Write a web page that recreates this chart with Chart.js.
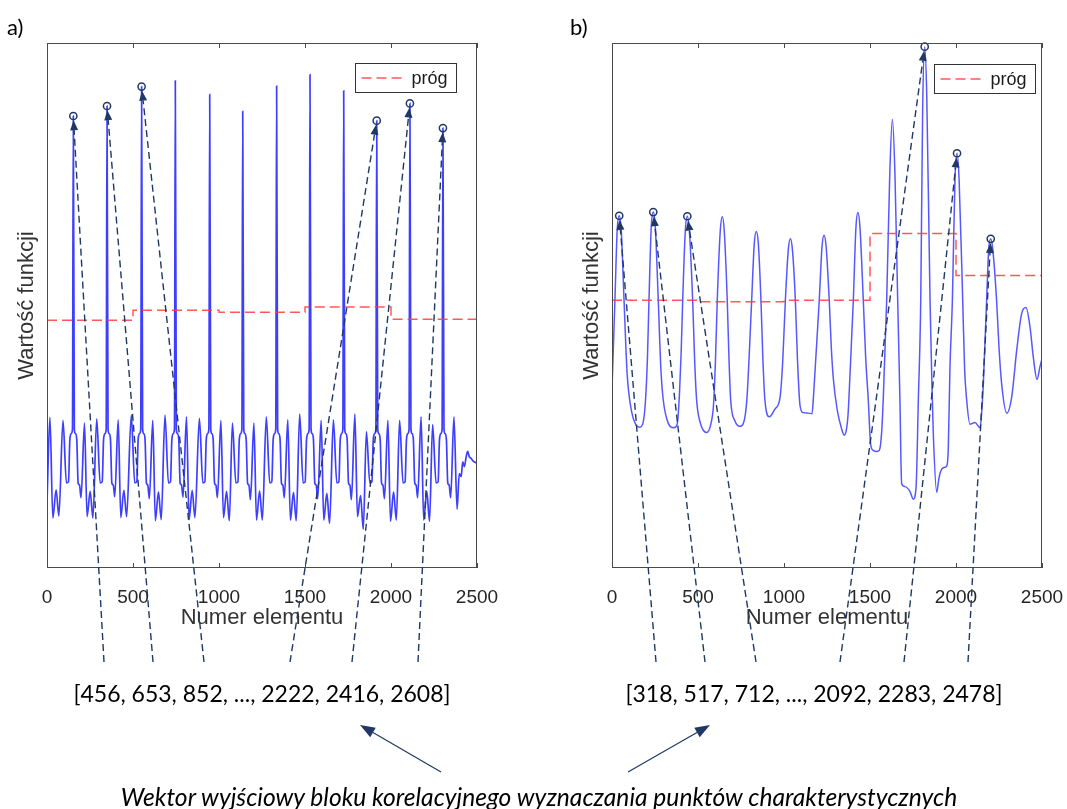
<!DOCTYPE html>
<html>
<head>
<meta charset="utf-8">
<script src="https://cdn.jsdelivr.net/npm/chart.js@4.4.1/dist/chart.umd.min.js"></script>
<style>
  html, body { margin: 0; padding: 0; background: #fff; }
  #wrap { position: relative; width: 1067px; height: 809px; overflow: hidden; background: #fff; }
  #wrap canvas { position: absolute; top: 0; }
  #ca { left: 0; }
  #cb { left: 565px; }
  #ov { left: 0; pointer-events: none; }
  .txt { position: absolute; white-space: nowrap; color: #000; font-family: Lato, "Open Sans", sans-serif; transform: translate(-50%, -50%); line-height: 1; }
  .tag { position: absolute; font-family: Lato, "Open Sans", sans-serif; font-size: 22px; line-height: 1; color: #000; }
</style>
</head>
<body>
<div id="wrap">
  <canvas id="ca" width="500" height="640"></canvas>
  <canvas id="cb" width="500" height="640"></canvas>
  <canvas id="ov" width="1067" height="809"></canvas>
  <div class="tag" style="left:7px; top:16px;">a)</div>
  <div class="tag" style="left:570px; top:16px;">b)</div>
  <div class="txt" id="vecA" style="left:262px; top:693px; font-size:23px;"></div>
  <div class="txt" id="vecB" style="left:814px; top:693px; font-size:23px;"></div>
  <div class="txt" id="caption" style="left:539px; top:797px; font-size:24.6px; font-style:italic;"></div>
</div>
<script>
// ---- data: panel a (element number, function value) ----
const signalA = [
  [0,12.6],[17,28.7],[34,9.5],[53,14.9],[69,9.9],[93,28.1],[113,16.2],[125,16.4],[133,24.5],[141,25.6],[148,26.4],
  [153,86.1],
  [159,26.4],[165,25.6],[173,24.5],[181,16.2],[189,15.8],[198,13.4],[218,27.6],[233,9.8],[251,14.6],[267,9.5],[289,28.4],[309,16.2],[321,16.4],[329,24.5],[337,25.6],[344,26.4],
  [349,88.0],
  [355,26.4],[361,25.6],[369,24.5],[377,16.2],[385,15.8],[394,13.6],[414,28.2],[429,9.6],[447,14.8],[463,9.8],[490,29.1],[510,16.2],[522,16.4],[530,24.5],[538,25.6],[545,26.4],
  [550,91.7],
  [556,26.4],[562,25.6],[570,24.5],[578,16.2],[586,15.8],[595,13.2],[615,28.1],[630,9.0],[648,14.5],[664,9.2],[686,29.1],[706,16.2],[718,16.4],[726,24.5],[734,25.6],[741,26.4],
  [746,92.8],
  [752,26.4],[758,25.6],[766,24.5],[774,16.2],[782,15.8],[791,13.5],[811,28.8],[826,9.2],[844,14.8],[860,9.6],[886,28.5],[906,16.2],[918,16.4],[926,24.5],[934,25.6],[941,26.4],
  [946,90.2],
  [952,26.4],[958,25.6],[966,24.5],[974,16.2],[982,15.8],[991,13.4],[1011,28.1],[1026,9.6],[1044,14.6],[1060,9.0],[1078,27.6],[1098,16.2],[1110,16.4],[1118,24.5],[1126,25.6],[1133,26.4],
  [1138,87.0],
  [1144,26.4],[1150,25.6],[1158,24.5],[1166,16.2],[1174,15.8],[1183,13.0],[1203,27.6],[1218,9.1],[1236,14.7],[1252,9.1],[1275,28.8],[1295,16.2],[1307,16.4],[1315,24.5],[1323,25.6],[1330,26.4],
  [1335,91.8],
  [1341,26.4],[1347,25.6],[1355,24.5],[1363,16.2],[1371,15.8],[1380,13.4],[1400,28.2],[1415,9.1],[1433,14.4],[1449,9.0],[1469,29.3],[1489,16.2],[1501,16.4],[1509,24.5],[1517,25.6],[1524,26.4],
  [1529,94.0],
  [1535,26.4],[1541,25.6],[1549,24.5],[1557,16.2],[1565,15.8],[1574,13.2],[1594,28.1],[1609,9.1],[1627,14.2],[1643,8.5],[1665,28.2],[1685,16.2],[1697,16.4],[1705,24.5],[1713,25.6],[1720,26.4],
  [1725,90.9],
  [1731,26.4],[1737,25.6],[1745,24.5],[1753,16.2],[1761,15.8],[1770,13.0],[1790,29.3],[1805,9.8],[1823,13.8],[1839,7.4],[1857,26.0],[1877,16.2],[1889,16.4],[1897,24.5],[1905,25.6],[1912,26.4],
  [1917,85.2],
  [1923,26.4],[1929,25.6],[1937,24.5],[1945,16.2],[1953,15.8],[1962,13.2],[1982,28.1],[1997,8.9],[2015,14.5],[2031,9.1],[2050,28.1],[2070,16.2],[2082,16.4],[2090,24.5],[2098,25.6],[2105,26.4],
  [2110,88.5],
  [2116,26.4],[2122,25.6],[2130,24.5],[2138,16.2],[2146,15.8],[2155,13.4],[2175,28.8],[2190,9.1],[2208,14.6],[2224,8.9],[2242,27.3],[2262,16.2],[2274,16.4],[2282,24.5],[2290,25.6],[2297,26.4],
  [2302,83.8],
  [2308,26.4],[2314,25.6],[2322,24.5],[2330,16.2],[2338,15.8],[2347,13.4],[2366,28.8],[2384,11.2],[2397,18.0],[2408,17.4],[2417,20.2],[2427,19.3],[2436,21.0],[2446,22.2],[2455,21.2],[2465,20.9],[2480,20.3],[2500,20.0]
];
const thresholdA = [[0,47.2],[500,47.2],[500,49.1],[1000,49.1],[1000,48.7],[1500,48.7],[1500,49.7],[2000,49.7],[2000,47.4],[2500,47.4]];
const peaksA = [153, 349, 550, 1917, 2110, 2302];
const vectorA = [456, 653, 852, 2222, 2416, 2608];

// ---- data: panel b ----
const signalB = [
  [0,34.2],[17,51],[30,64.2],[42,67.1],[54,64.2],[70,51],[88,37],[114,29.8],[140,27.2],[160,26.8],[180,27.6],[195,32],[206,40],
  [215,51],[228,64.8],[240,67.8],[252,64.8],[269,51],[284,38],[298,32],[327,27.6],[360,26.7],[379,27.4],[392,33],[402,41],
  [411,51],[426,64.1],[438,67.0],[450,64.1],[469,51],[480,40],[492,32],[512,27.8],[550,25.8],[576,27.6],[590,31],[601,39],
  [612,51],[629,64.0],[641,66.9],[653,64.0],[670,51],[680,40],[690,32],[715,28.0],[744,27.0],[773,28.8],[785,32.5],[797,40],
  [812,51],[827,61.7],[839,64.1],[851,61.7],[866,51],[877,40],[889,32],[915,28.8],[948,30.3],[977,32.5],[992,39],
  [1008,51],[1025,60.6],[1037,62.7],[1049,60.6],[1066,51],[1078,40],[1093,31],[1110,29.6],[1140,29.5],[1163,29.4],[1172,33],[1185,40],
  [1205,51],[1221,61.2],[1233,63.4],[1245,61.2],[1263,51],[1275,42],[1287,36],[1310,30],[1335,26.5],[1350,25.3],[1362,26.2],[1372,29],[1384,37],
  [1403,51],[1418,64.7],[1430,67.7],[1442,64.7],[1461,51],[1475,40],[1490,32],[1504,23.5],[1519,22.4],[1540,22.2],[1554,22.4],[1568,26],[1578,33],
  [1597,51],[1615,75.1],[1630,85.5],[1645,75.1],[1661,51],[1674,32],[1684,16.1],[1703,15.5],[1732,14.6],[1752,13.1],[1768,15.5],[1781,32],
  [1795,51],[1806,87],[1818,99.3],[1830,90],[1849,51],[1860,35],[1868,25.6],[1888,14.4],[1898,16.5],[1907,18.0],[1926,19.1],[1946,19.4],[1955,22.6],[1965,38.3],
  [1979,51],[1994,74],[2006,79.0],[2018,74],[2039,51],[2050,38],[2062,32],[2081,27.4],[2110,27.7],[2140,26.7],[2150,30],[2159,35.2],
  [2178,51],[2190,60.6],[2202,62.7],[2214,60.6],[2236,51],[2250,42],[2265,35.2],[2295,29.5],[2324,32.6],[2353,41.5],[2382,48.5],
  [2407,49.6],[2430,46],[2450,40],[2471,35.9],[2488,38.3],[2500,39.9]
];
const thresholdB = [[0,51.0],[500,51.0],[500,50.7],[1000,50.7],[1000,51.0],[1500,51.0],[1500,63.7],[2000,63.7],[2000,55.7],[2500,55.7]];
const peaksB = [42, 240, 438, 1818, 2006, 2202];
const vectorB = [318, 517, 712, 2092, 2283, 2478];

// ---- shared text ----
const xTitle = 'Numer elementu';
const yTitle = 'Wartość funkcji';
const legendText = 'próg';
const captionText = 'Wektor wyjściowy bloku korelacyjnego wyznaczania punktów charakterystycznych';

const NAVY = '#1f3864';
const AXIS = '#4a4a4a';
const toXY = arr => arr.map(([x, y]) => ({ x, y }));
const lookup = (sig, x) => sig.find(p => p[0] === x)[1];

// frame, inside ticks and the legend box drawn on top of the plot
function framePlugin(legendDx, legendTop) {
  return {
    id: 'frame',
    afterDatasetsDraw(chart) {
      const { ctx, chartArea: a, scales } = chart;
      ctx.save();
      ctx.strokeStyle = AXIS;
      ctx.lineWidth = 1;
      ctx.strokeRect(Math.round(a.left) + 0.5, Math.round(a.top) + 0.5, Math.round(a.right - a.left) - 1, Math.round(a.bottom - a.top) - 1);
      ctx.beginPath();
      scales.x.ticks.forEach(t => {
        const px = Math.round(scales.x.getPixelForValue(t.value)) + 0.5;
        ctx.moveTo(px, a.bottom); ctx.lineTo(px, a.bottom - 5);
        ctx.moveTo(px, a.top); ctx.lineTo(px, a.top + 5);
      });
      ctx.stroke();
      // legend
      const bx = Math.round(a.right + legendDx) + 0.5, by = Math.round(legendTop) + 0.5, bw = 101, bh = 29;
      ctx.fillStyle = '#fff';
      ctx.fillRect(bx, by, bw, bh);
      ctx.strokeStyle = '#333';
      ctx.strokeRect(bx, by, bw, bh);
      ctx.strokeStyle = 'rgba(255,60,60,0.85)';
      ctx.lineWidth = 1.5;
      ctx.setLineDash([10, 5]);
      ctx.beginPath();
      ctx.moveTo(bx + 6, by + bh / 2); ctx.lineTo(bx + 48, by + bh / 2);
      ctx.stroke();
      ctx.setLineDash([]);
      ctx.fillStyle = '#1a1a1a';
      ctx.font = '18px "Liberation Sans", Arial, sans-serif';
      ctx.textBaseline = 'middle';
      ctx.textAlign = 'left';
      ctx.fillText(legendText, bx + 56, by + bh / 2 + 1);
      ctx.restore();
    }
  };
}

function makeChart(id, signal, threshold, peaks, lineColor, lineWidth, legendDx, legendTop) {
  return new Chart(document.getElementById(id), {
    type: 'scatter',
    data: {
      datasets: [
        {
          label: 'maksima',
          data: toXY(peaks.map(x => [x, lookup(signal, x)])),
          showLine: false,
          pointRadius: 3.6,
          pointStyle: 'circle',
          pointBorderColor: NAVY,
          pointBackgroundColor: 'rgba(0,0,0,0)',
          pointBorderWidth: 1.5,
          clip: false,
          order: 0
        },
        {
          label: legendText,
          data: toXY(threshold),
          showLine: true,
          pointRadius: 0,
          borderColor: 'rgba(255,60,60,0.85)',
          borderWidth: 1.5,
          borderDash: [10, 5],
          order: 1
        },
        {
          label: 'funkcja',
          data: toXY(signal),
          showLine: true,
          pointRadius: 0,
          borderColor: lineColor,
          borderWidth: lineWidth,
          cubicInterpolationMode: 'monotone',
          order: 2
        }
      ]
    },
    options: {
      responsive: false,
      animation: false,
      events: [],
      layout: { padding: { top: 43, right: 23, left: 0, bottom: 0 } },
      plugins: { legend: { display: false }, tooltip: { enabled: false } },
      scales: {
        x: {
          type: 'linear', min: 0, max: 2500,
          afterFit: s => { s.height = 72; s.paddingLeft = 0; s.paddingRight = 0; },
          grid: { display: false },
          border: { display: false },
          ticks: {
            stepSize: 500, padding: 10, maxRotation: 0, autoSkip: false,
            color: '#262626',
            font: { family: '"Liberation Sans", Arial, sans-serif', size: 19 },
            callback: v => String(v)
          },
          title: {
            display: true, text: xTitle, color: '#333',
            font: { family: '"Liberation Sans", Arial, sans-serif', size: 22 },
            padding: { top: 0, bottom: 9 }
          }
        },
        y: {
          type: 'linear', min: 0, max: 100,
          afterFit: s => { s.width = 47; s.paddingTop = 0; s.paddingBottom = 0; },
          grid: { display: false },
          border: { display: false },
          ticks: { display: false },
          title: {
            display: true, text: yTitle, color: '#333',
            font: { family: '"Liberation Sans", Arial, sans-serif', size: 22 },
            padding: { top: 14, bottom: 0 }
          }
        }
      }
    },
    plugins: [framePlugin(legendDx, legendTop)]
  });
}

const chartA = makeChart('ca', signalA, thresholdA, peaksA, 'rgba(20,20,255,0.82)', 1.7, -122, 63);
const chartB = makeChart('cb', signalB, thresholdB, peaksB, 'rgba(40,40,255,0.78)', 1.5, -108, 64);

// ---- output vectors and caption ----
const vecText = v => '[' + v.slice(0, 3).join(', ') + ', ..., ' + v.slice(3).join(', ') + ']';
document.getElementById('vecA').textContent = vecText(vectorA);
document.getElementById('vecB').textContent = vecText(vectorB);
document.getElementById('caption').textContent = captionText;

// ---- connectors from the vector text up to the detected maxima ----
function arrow(ctx, x1, y1, x2, y2, dash, headLen, headHalf, width) {
  const dx = x2 - x1, dy = y2 - y1, len = Math.hypot(dx, dy);
  const ux = dx / len, uy = dy / len;
  const bx = x2 - ux * headLen, by = y2 - uy * headLen;
  ctx.save();
  ctx.strokeStyle = NAVY;
  ctx.fillStyle = NAVY;
  ctx.lineWidth = width;
  ctx.setLineDash(dash);
  ctx.beginPath();
  ctx.moveTo(x1, y1); ctx.lineTo(bx, by);
  ctx.stroke();
  ctx.setLineDash([]);
  ctx.beginPath();
  ctx.moveTo(x2, y2);
  ctx.lineTo(bx - uy * headHalf, by + ux * headHalf);
  ctx.lineTo(bx + uy * headHalf, by - ux * headHalf);
  ctx.closePath();
  ctx.fill();
  ctx.restore();
}

const ov = document.getElementById('ov').getContext('2d');
function connectors(chart, canvasLeft, signal, peaks, feet) {
  const sx = chart.scales.x, sy = chart.scales.y;
  peaks.forEach((x, i) => {
    const cx = canvasLeft + sx.getPixelForValue(x);
    const cy = sy.getPixelForValue(lookup(signal, x));
    const fx = feet[i], fy = 662;
    const d = Math.hypot(fx - cx, fy - cy);
    const r = 4.2;
    const tx = cx + (fx - cx) / d * r, ty = cy + (fy - cy) / d * r;
    arrow(ov, fx, fy, tx, ty, [7, 4], 10, 4, 1.4);
  });
}
connectors(chartA, 0, signalA, peaksA, [104, 153, 204, 290, 352, 418]);
connectors(chartB, 565, signalB, peaksB, [656, 705, 756, 840, 904, 968]);

// arrows from the caption to both vectors
arrow(ov, 441, 772, 360, 725, [], 15, 5.5, 1.2);
arrow(ov, 628, 772, 710, 725, [], 15, 5.5, 1.2);
</script>
</body>
</html>
